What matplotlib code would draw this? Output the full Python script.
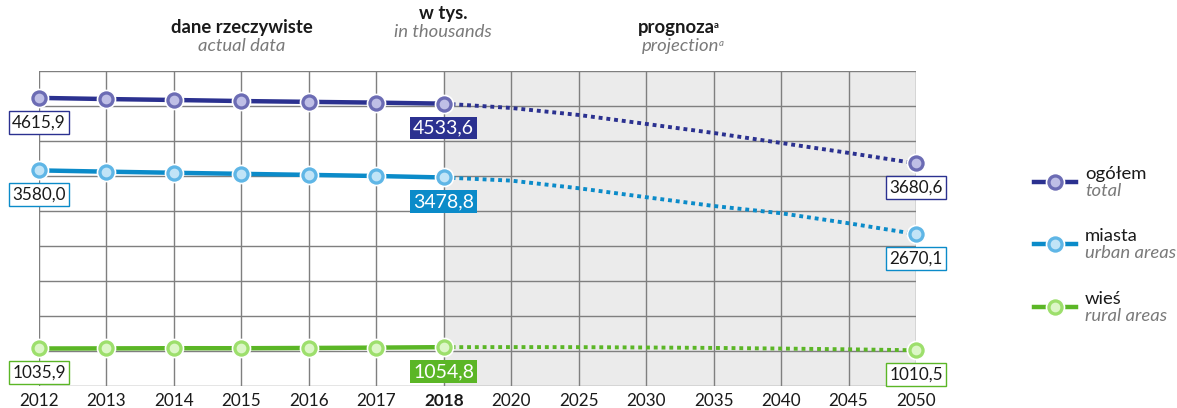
import matplotlib
matplotlib.use("Agg")
import matplotlib.pyplot as plt
from matplotlib.lines import Line2D
import numpy as np

plt.rcParams['font.family'] = ['Lato', 'DejaVu Sans']

years = ["2012", "2013", "2014", "2015", "2016", "2017", "2018",
         "2020", "2025", "2030", "2035", "2040", "2045", "2050"]
n_actual = 7  # 2012..2018 are actual data

total_actual = [4615.9, 4599.4, 4585.9, 4570.8, 4559.2, 4548.2, 4533.6]
urban_actual = [3580.0, 3562.0, 3546.0, 3531.0, 3516.0, 3500.0, 3478.8]
rural_actual = [1035.9, 1037.4, 1039.9, 1039.8, 1043.2, 1048.2, 1054.8]

total_proj = [4533.6, 4472.0, 4372.0, 4244.0, 4115.0, 3972.0, 3830.0, 3680.6]
urban_proj = [3478.8, 3434.0, 3325.0, 3197.0, 3072.0, 2968.0, 2825.0, 2670.1]
rural_proj = [1054.8, 1056.0, 1055.0, 1050.0, 1044.0, 1035.0, 1024.0, 1010.5]

labels_pl = ["ogółem", "miasta", "wieś"]
labels_en = ["total", "urban areas", "rural areas"]

line_colors = ["#2b3190", "#0b8bc9", "#5bb626"]
marker_colors = ["#6c6cb4", "#5fb6e6", "#9ddf6c"]
highlight_colors = ["#c9c9ec", "#cdeafa", "#e4f9d2"]

W, H = 1177, 408
fig = plt.figure(figsize=(W / 100, H / 100), dpi=100)
ax = fig.add_axes([39 / W, 1 - 386 / H, (916 - 39) / W, (386 - 71) / H])

x = np.arange(len(years))
ax.set_xlim(0, len(years) - 1)
ax.set_ylim(500, 5000)

# projection shading
ax.axvspan(n_actual - 1, len(years) - 1, color="#ebebeb", zorder=0)

# grid
grid_c = "#7f7f7f"
for xi in x:
    ax.axvline(xi, color=grid_c, lw=1.0, zorder=1)
for yv in np.arange(500, 5001, 500):
    ax.axhline(yv, color=grid_c, lw=1.0, zorder=1)
for s in ax.spines.values():
    s.set_visible(False)
ax.set_yticks([])
ax.set_xticks(x)
ax.set_xticklabels(years, fontsize=12.3, color="#1a1a1a")
ax.tick_params(axis="x", length=0, pad=5)
for t in ax.get_xticklabels():
    if t.get_text() == "2018":
        t.set_fontweight("bold")

series = [(total_actual, total_proj), (urban_actual, urban_proj), (rural_actual, rural_proj)]
x_act = x[:n_actual]
x_proj = x[n_actual - 1:]


def draw_marker(xs, ys, i):
    ax.plot(xs, ys, "o", ms=13, mfc=marker_colors[i], mec="white", mew=1.2,
            zorder=5, clip_on=False)
    ax.plot(xs, ys, "o", ms=7, mfc=highlight_colors[i], mec="none", alpha=0.9,
            zorder=6, clip_on=False)


for i, (act, proj) in enumerate(series):
    ax.plot(x_proj, proj, color=line_colors[i], lw=2.8, ls=(0, (1.0, 1.0)),
            zorder=3, solid_capstyle="butt", dash_capstyle="butt")
    ax.plot(x_act, act, color=line_colors[i], lw=3.2, zorder=4)
    draw_marker(x_act, act, i)
    draw_marker([x_proj[-1]], [proj[-1]], i)

    off = -17.5
    ax.annotate(f"{act[0]:.1f}".replace(".", ","), (x_act[0], act[0]),
                xytext=(0, off), textcoords="offset points", ha="center", va="center",
                fontsize=12.3, color="#1a1a1a", zorder=7, annotation_clip=False,
                bbox=dict(boxstyle="square,pad=0.2", fc="white", ec=line_colors[i], lw=1))
    ax.annotate(f"{act[-1]:.1f}".replace(".", ","), (x_act[-1], act[-1]),
                xytext=(0, off), textcoords="offset points", ha="center", va="center",
                fontsize=14, color="white", zorder=7, annotation_clip=False,
                bbox=dict(boxstyle="square,pad=0.15", fc=line_colors[i], ec="none"))
    ax.annotate(f"{proj[-1]:.1f}".replace(".", ","), (x_proj[-1], proj[-1]),
                xytext=(0, off), textcoords="offset points", ha="center", va="center",
                fontsize=12.3, color="#1a1a1a", zorder=7, annotation_clip=False,
                bbox=dict(boxstyle="square,pad=0.2", fc="white", ec=line_colors[i], lw=1))


def fx(px):
    return px / W


def fy(py):
    return 1 - py / H


hs = 13.3
fig.text(fx(242), fy(28), "dane rzeczywiste", ha="center", va="center",
         fontsize=hs, fontweight="bold", color="#1a1a1a")
fig.text(fx(242), fy(46), "actual data", ha="center", va="center",
         fontsize=hs, fontstyle="italic", color="#7a7a7a")
fig.text(fx(443), fy(14), "w tys.", ha="center", va="center",
         fontsize=hs, fontweight="bold", color="#1a1a1a")
fig.text(fx(443), fy(32), "in thousands", ha="center", va="center",
         fontsize=hs, fontstyle="italic", color="#7a7a7a")
t1 = fig.text(fx(676), fy(28), "prognoza", ha="center", va="center",
              fontsize=hs, fontweight="bold", color="#1a1a1a")
t2 = fig.text(fx(681), fy(46), "projection", ha="center", va="center",
              fontsize=hs, fontstyle="italic", color="#7a7a7a")

# legend
leg_y = [182, 244, 307]
for i in range(3):
    yy = fy(leg_y[i])
    fig.add_artist(Line2D([fx(1034), fx(1076)], [yy, yy], color=line_colors[i], lw=3.2))
    fig.add_artist(Line2D([fx(1055)], [yy], marker="o", ms=13, mfc=marker_colors[i],
                          mec="white", mew=1.2))
    fig.add_artist(Line2D([fx(1055)], [yy], marker="o", ms=7, mfc=highlight_colors[i],
                          mec="none", alpha=0.9))
    fig.text(fx(1085), fy(leg_y[i] - 8), labels_pl[i], ha="left", va="center",
             fontsize=hs, color="#1a1a1a")
    fig.text(fx(1085), fy(leg_y[i] + 9), labels_en[i], ha="left", va="center",
             fontsize=hs, fontstyle="italic", color="#7a7a7a")

# superscripts after header words
fig.canvas.draw()
r = fig.canvas.get_renderer()
for t, c, st, wt in [(t1, "#1a1a1a", "normal", "bold"), (t2, "#7a7a7a", "italic", "normal")]:
    bb = t.get_window_extent(r)
    fig.text((bb.x1 - 0.5) / W, (bb.y1 - 1) / H, "a", ha="left", va="top",
             fontsize=7, fontstyle=st, fontweight=wt, color=c)

fig.savefig("out.png", dpi=100)
